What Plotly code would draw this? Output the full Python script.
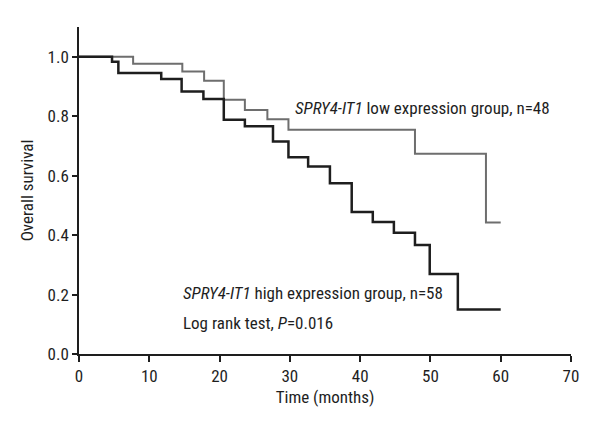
import plotly.graph_objects as go

# Kaplan-Meier step data
high_times = [4.7, 5.6, 11.7, 14.6, 17.7, 20.6, 23.6, 27.6, 29.8, 32.6, 35.7, 38.8, 41.8, 44.8, 47.8, 49.9, 53.9]
high_surv = [0.983, 0.945, 0.925, 0.883, 0.858, 0.788, 0.766, 0.715, 0.662, 0.631, 0.574, 0.478, 0.444, 0.408, 0.367, 0.269, 0.150]
high_end = 60.0

low_times = [7.7, 14.7, 17.8, 20.6, 23.6, 26.8, 29.8, 47.8, 57.9]
low_surv = [0.976, 0.950, 0.919, 0.855, 0.821, 0.790, 0.754, 0.674, 0.442]
low_end = 60.0

x_ticks = [0, 10, 20, 30, 40, 50, 60, 70]
y_ticks = [0.0, 0.2, 0.4, 0.6, 0.8, 1.0]

FONT = "Roboto Condensed, Roboto, sans-serif"

def km(times, surv, end):
    x = [0] + times + [end]
    y = [1.0] + surv + [surv[-1]]
    return x, y

fig = go.Figure()
lx, ly = km(low_times, low_surv, low_end)
hx, hy = km(high_times, high_surv, high_end)
fig.add_trace(go.Scatter(x=lx, y=ly, mode="lines", line=dict(shape="hv", color="#6e6e6e", width=2),
                         showlegend=False, hoverinfo="skip"))
fig.add_trace(go.Scatter(x=hx, y=hy, mode="lines", line=dict(shape="hv", color="#1e1e1e", width=2.5),
                         showlegend=False, hoverinfo="skip"))

fig.add_annotation(x=30.4, y=0.827, xref="x", yref="y", xanchor="left", yanchor="middle",
                   text="<i>SPRY4-IT1</i> low expression group, n=48", showarrow=False,
                   font=dict(family=FONT, size=17, color="#1e1e1e"))
fig.add_annotation(x=14.5, y=0.204, xref="x", yref="y", xanchor="left", yanchor="middle",
                   text="<i>SPRY4-IT1</i> high expression group, n=58", showarrow=False,
                   font=dict(family=FONT, size=17, color="#1e1e1e"))
fig.add_annotation(x=14.5, y=0.104, xref="x", yref="y", xanchor="left", yanchor="middle",
                   text="Log rank test, <i>P</i>=0.016", showarrow=False,
                   font=dict(family=FONT, size=17, color="#1e1e1e"))

fig.update_layout(
    width=592, height=432,
    margin=dict(l=71, r=29, t=19, b=86),
    plot_bgcolor="white", paper_bgcolor="white",
    font=dict(family=FONT, size=17, color="#1e1e1e"),
)
fig.update_xaxes(range=[0, 70], tickvals=x_ticks, showgrid=False, zeroline=False,
                 showline=True, linecolor="#1e1e1e", linewidth=1.5,
                 ticks="outside", ticklen=6, tickwidth=1.5, tickcolor="#1e1e1e",
                 title=dict(text="Time (months)", standoff=6, font=dict(size=17)))
fig.update_yaxes(range=[0, 1.1], tickvals=y_ticks, tickformat=".1f", showgrid=False, zeroline=False,
                 showline=True, linecolor="#1e1e1e", linewidth=1.5,
                 ticks="outside", ticklen=5, tickwidth=1.5, tickcolor="#1e1e1e",
                 title=dict(text="Overall survival", standoff=10, font=dict(size=17)))

fig.write_html("out.html")
